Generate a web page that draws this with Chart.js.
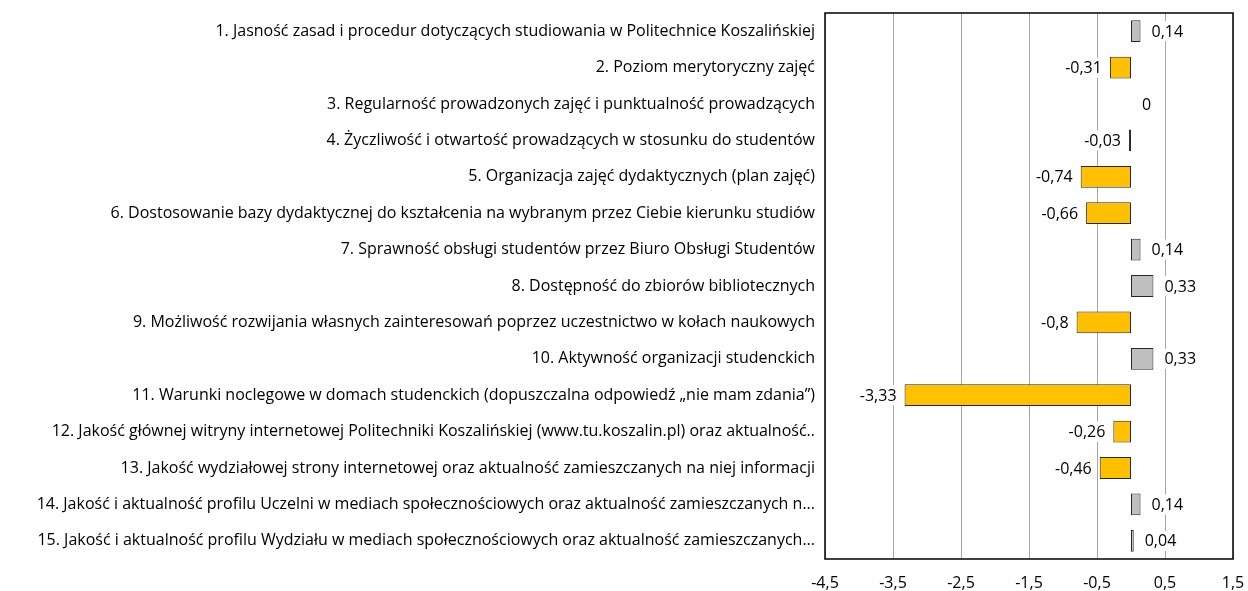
<!DOCTYPE html>
<html>
<head>
<meta charset="utf-8">
<script src="https://cdn.jsdelivr.net/npm/chart.js@4/dist/chart.umd.min.js"></script>
<style>
  html, body { margin: 0; padding: 0; background: #fff; }
  #wrap { width: 1248px; height: 591px; }
</style>
</head>
<body>
<div id="wrap"><canvas id="chart"></canvas></div>
<script>
var categories = [
    '1. Jasność zasad i procedur dotyczących studiowania w Politechnice Koszalińskiej',
    '2. Poziom merytoryczny zajęć',
    '3. Regularność prowadzonych zajęć i punktualność prowadzących',
    '4. Życzliwość i otwartość prowadzących w stosunku do studentów',
    '5. Organizacja zajęć dydaktycznych (plan zajęć)',
    '6. Dostosowanie bazy dydaktycznej do kształcenia na wybranym przez Ciebie kierunku studiów',
    '7. Sprawność obsługi studentów przez Biuro Obsługi Studentów',
    '8. Dostępność do zbiorów bibliotecznych',
    '9. Możliwość rozwijania własnych zainteresowań poprzez uczestnictwo w kołach naukowych',
    '10. Aktywność organizacji studenckich',
    '11. Warunki noclegowe w domach studenckich (dopuszczalna odpowiedź „nie mam zdania”)',
    '12. Jakość głównej witryny internetowej Politechniki Koszalińskiej (www.tu.koszalin.pl) oraz aktualność..',
    '13. Jakość wydziałowej strony internetowej oraz aktualność zamieszczanych na niej informacji',
    '14. Jakość i aktualność profilu Uczelni w mediach społecznościowych oraz aktualność zamieszczanych n...',
    '15. Jakość i aktualność profilu Wydziału w mediach społecznościowych oraz aktualność zamieszczanych...'
];
var values = [0.14, -0.31, 0, -0.03, -0.74, -0.66, 0.14, 0.33, -0.8, 0.33, -3.33, -0.26, -0.46, 0.14, 0.04];
var xTicks = [-4.5, -3.5, -2.5, -1.5, -0.5, 0.5, 1.5];

var FONT = '"Open Sans", Lato, sans-serif';
var FSIZE = 16;

function fmt(v) {
    return String(v).replace('.', ',');
}

// value labels next to the bar ends, on a white patch
var barLabels = {
    id: 'barLabels',
    afterDatasetsDraw: function (chart) {
        var ctx = chart.ctx;
        var meta = chart.getDatasetMeta(0);
        var zero = chart.scales.x.getPixelForValue(0);
        ctx.save();
        ctx.font = FSIZE + 'px ' + FONT;
        ctx.textBaseline = 'middle';
        meta.data.forEach(function (bar, i) {
            var v = values[i];
            var txt = fmt(v);
            var w = ctx.measureText(txt).width;
            var x;
            if (v < 0) {
                x = bar.x - 8 - w;
            } else {
                x = Math.max(bar.x, zero) + 11;
            }
            ctx.fillStyle = '#fff';
            ctx.fillRect(x - 3, bar.y - 10, w + 6, 20);
            ctx.fillStyle = '#000';
            ctx.textAlign = 'left';
            ctx.fillText(txt, x, bar.y + 1);
        });
        ctx.restore();
    }
};

// black frame around the plot area
var frame = {
    id: 'frame',
    afterDraw: function (chart) {
        var a = chart.chartArea;
        var ctx = chart.ctx;
        ctx.save();
        ctx.strokeStyle = '#000';
        ctx.lineWidth = 1.5;
        ctx.strokeRect(a.left, a.top, a.right - a.left, a.bottom - a.top);
        ctx.restore();
    }
};

new Chart(document.getElementById('chart'), {
    type: 'bar',
    data: {
        labels: categories,
        datasets: [{
            data: values,
            backgroundColor: values.map(function (v) { return v < 0 ? '#FFC000' : '#BFBFBF'; }),
            borderColor: '#262626',
            borderWidth: 1,
            borderSkipped: false,
            categoryPercentage: 1,
            barPercentage: 0.6
        }]
    },
    options: {
        indexAxis: 'y',
        responsive: true,
        maintainAspectRatio: false,
        animation: false,
        layout: { padding: { top: 13, right: 15, left: 0, bottom: 0 } },
        plugins: {
            legend: { display: false },
            tooltip: { enabled: false }
        },
        scales: {
            x: {
                min: -4.5,
                max: 1.5,
                afterBuildTicks: function (scale) {
                    scale.ticks = xTicks.map(function (v) { return { value: v }; });
                },
                afterFit: function (scale) {
                    scale.height = 32;
                    scale.paddingLeft = 0;
                    scale.paddingRight = 0;
                },
                grid: { color: '#A6A6A6', lineWidth: 1, drawTicks: false },
                border: { display: false },
                ticks: {
                    padding: 15,
                    color: '#000',
                    font: { family: FONT, size: FSIZE },
                    callback: function (v) { return fmt(v); }
                }
            },
            y: {
                afterFit: function (scale) {
                    scale.width = 825;
                    scale.paddingTop = 0;
                    scale.paddingBottom = 0;
                },
                grid: { display: false, drawTicks: false },
                border: { display: false },
                ticks: {
                    padding: 10,
                    color: '#000',
                    autoSkip: false,
                    font: { family: FONT, size: FSIZE }
                }
            }
        }
    },
    plugins: [barLabels, frame]
});
</script>
</body>
</html>
